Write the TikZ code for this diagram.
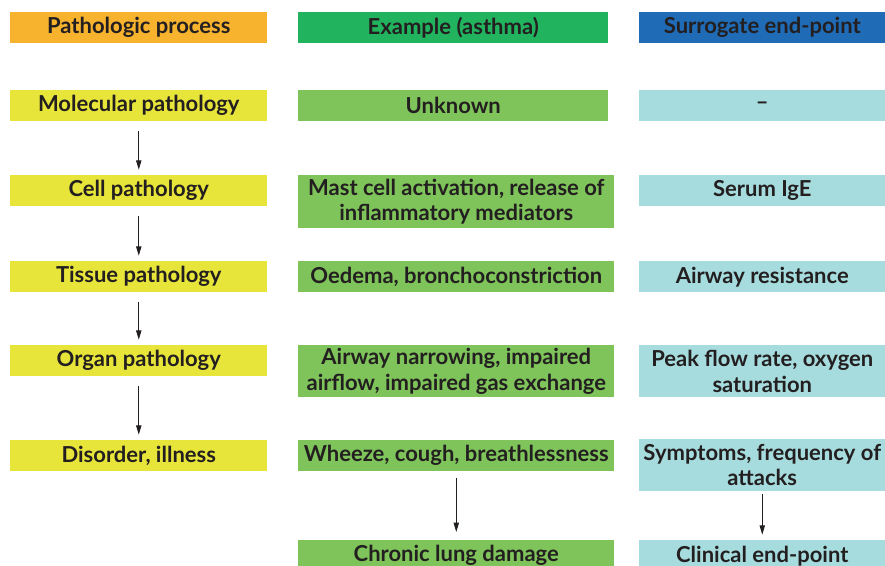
\documentclass[tikz,border=0pt]{standalone}
\usepackage{fontspec}
\setmainfont{Lato}
\usetikzlibrary{positioning,arrows.meta}

\definecolor{headorange}{HTML}{F7B22E}
\definecolor{headgreen}{HTML}{22B35E}
\definecolor{headblue}{HTML}{1F6BB5}
\definecolor{procyellow}{HTML}{E8E53A}
\definecolor{examgreen}{HTML}{7EC45A}
\definecolor{surrcyan}{HTML}{A7DCDE}
\definecolor{ink}{HTML}{231F20}

\begin{document}
\begin{tikzpicture}[x=0.75pt, y=-0.75pt,
    every node/.style={anchor=north west, inner sep=0pt, align=center, text=ink,
                       font=\bfseries\fontsize{16.5}{19}\selectfont, minimum height=23.25pt},
    proc/.style={fill=procyellow, minimum width=192.75pt},
    exam/.style={fill=examgreen, minimum width=237pt},
    surr/.style={fill=surrcyan, minimum width=184.5pt},
    flow/.style={-{Triangle[length=7pt,width=4pt]}, line width=0.7pt, ink}]
  \useasboundingbox (0,0) rectangle (885,566);
  % headers
  \node[fill=headorange, minimum width=192.75pt] (hproc) at (10,12) {Pathologic process};
  \node[fill=headgreen, minimum width=232.5pt] (hexam) at (298,12) {Example (asthma)};
  \node[fill=headblue, minimum width=184.5pt] (hsurr) at (639,12) {Surrogate end-point};
  % pathologic process
  \node[proc] (mol) at (10,90) {Molecular pathology};
  \node[proc] (cell) at (10,175) {Cell pathology};
  \node[proc] (tiss) at (10,261) {Tissue pathology};
  \node[proc] (organ) at (10,345) {Organ pathology};
  \node[proc] (ill) at (10,440) {Disorder, illness};
  % example
  \node[exam, minimum width=232.5pt] (unk) at (298,90) {Unknown};
  \node[exam, minimum height=39.75pt] (mast) at (298,175) {Mast cell activation, release of\\inflammatory mediators};
  \node[exam] (oed) at (298,261) {Oedema, bronchoconstriction};
  \node[exam, minimum height=39pt] (narrow) at (298,345) {Airway narrowing, impaired\\airflow, impaired gas exchange};
  \node[exam] (wheeze) at (298,440) {Wheeze, cough, breathlessness};
  \node[exam] (chronic) at (298,540) {Chronic lung damage};
  % surrogate end-points
  \node[surr] (none) at (639,90) {--};
  \node[surr] (ige) at (639,175) {Serum IgE};
  \node[surr] (resist) at (639,261) {Airway resistance};
  \node[surr, minimum height=39pt] (peak) at (639,345) {Peak flow rate, oxygen\\saturation};
  \node[surr, minimum height=39pt] (sympt) at (639,439) {Symptoms, frequency of\\attacks};
  \node[surr] (clin) at (639,540) {Clinical end-point};
  % arrows
  \draw[flow, shorten <=7pt, shorten >=4pt] (mol.south) -- (cell.north);
  \draw[flow, shorten <=7pt, shorten >=4pt] (cell.south) -- (tiss.north);
  \draw[flow, shorten <=7pt, shorten >=4pt] (tiss.south) -- (organ.north);
  \draw[flow, shorten <=7pt, shorten >=4pt] (organ.south) -- (ill.north);
  \draw[flow, shorten <=5pt, shorten >=6pt] (wheeze.south) -- (chronic.north);
  \draw[flow, shorten <=2pt, shorten >=4pt] (sympt.south) -- (clin.north);
\end{tikzpicture}
\end{document}
